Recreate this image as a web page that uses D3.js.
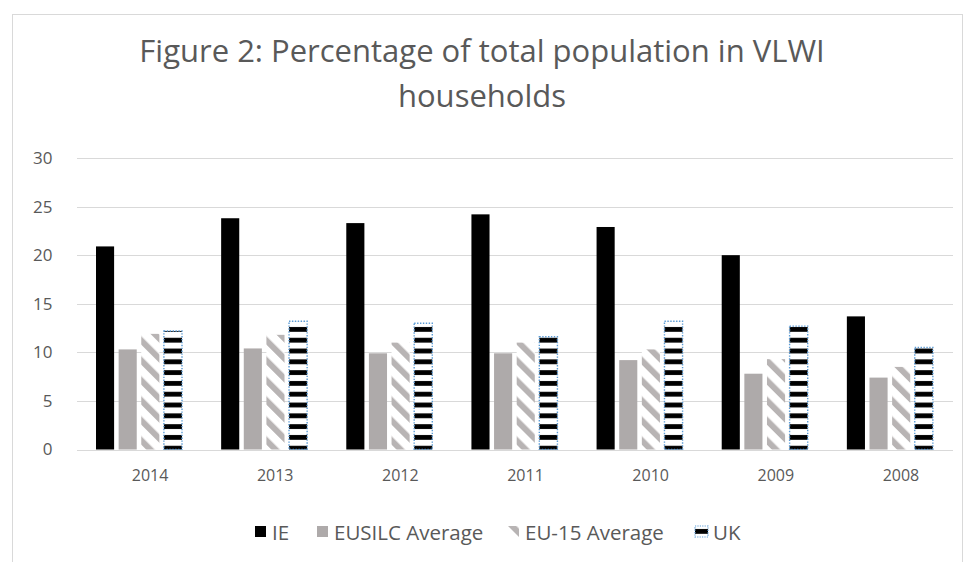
<!DOCTYPE html>
<html>
<head>
<meta charset="utf-8">
<script src="https://cdn.jsdelivr.net/npm/d3@7/dist/d3.min.js"></script>
<style>
  html, body { margin: 0; padding: 0; background: #fff; }
  svg { display: block; font-family: "Open Sans", "Noto Sans", sans-serif; }
</style>
</head>
<body>
<svg id="chart" width="965" height="562"></svg>
<script>
const titleLines = ["Figure 2: Percentage of total population in VLWI", "households"];
const categories = ["2014", "2013", "2012", "2011", "2010", "2009", "2008"];
const seriesNames = ["IE", "EUSILC Average", "EU-15 Average", "UK"];
const ie     = [20.9, 23.8, 23.3, 24.2, 22.9, 20.0, 13.7];
const eusilc = [10.3, 10.4, 9.9, 9.9, 9.2, 7.8, 7.4];
const eu15   = [11.9, 11.8, 11.0, 11.0, 10.3, 9.3, 8.5];
const uk     = [12.2, 13.2, 13.0, 11.6, 13.2, 12.7, 10.5];
const yTicks = [0, 5, 10, 15, 20, 25, 30];

const seriesValues = [ie, eusilc, eu15, uk];
const rows = categories.map((c, i) => ({
  cat: c,
  vals: seriesNames.map((s, k) => ({ key: s, k: k, value: seriesValues[k][i] }))
}));

const svg = d3.select("#chart");
const textColor = "#595959";
const gridColor = "#d9d9d9";

// patterns
const defs = svg.append("defs");
const diag = defs.append("pattern")
  .attr("id", "diag").attr("patternUnits", "userSpaceOnUse")
  .attr("width", 14.14).attr("height", 14.14)
  .attr("patternTransform", "rotate(-45)");
diag.append("rect").attr("width", 14.14).attr("height", 14.14).attr("fill", "#fff");
diag.append("rect").attr("x", 0).attr("width", 6).attr("height", 14.14).attr("fill", "#b8b4b4");

const hstripe = defs.append("pattern")
  .attr("id", "hstripe").attr("patternUnits", "userSpaceOnUse")
  .attr("width", 10).attr("height", 10.8);
hstripe.append("rect").attr("width", 10).attr("height", 10.8).attr("fill", "#fff");
hstripe.append("rect").attr("y", 3).attr("width", 10).attr("height", 4.8).attr("fill", "#000");

const fills = ["#000000", "#aeaaaa", "url(#diag)", "url(#hstripe)"];

// chart border
svg.append("rect")
  .attr("x", 12.5).attr("y", 14.5).attr("width", 950).attr("height", 600)
  .attr("fill", "none").attr("stroke", gridColor).attr("stroke-width", 1);

// title
svg.append("g").selectAll("text").data(titleLines).join("text")
  .attr("x", 482).attr("y", (d, i) => 62 + i * 45)
  .attr("text-anchor", "middle")
  .attr("font-size", 31).attr("fill", textColor)
  .text(d => d);

// scales
const x0 = d3.scaleBand().domain(categories).range([76.5, 952.5]).paddingInner(0).paddingOuter(0);
const x1 = d3.scaleBand().domain(seriesNames).range([19.5, 105.5]).paddingInner(0.2);
const y = d3.scaleLinear().domain([0, 30]).range([449.5, 158]);

// gridlines
const yAxis = d3.axisLeft(y).tickValues(yTicks).tickSize(-(952.5 - 76.5)).tickPadding(24);
const gy = svg.append("g").attr("transform", "translate(76.5,0)").call(yAxis);
gy.select(".domain").remove();
gy.selectAll(".tick line").attr("stroke", gridColor).attr("stroke-width", 1)
  .attr("shape-rendering", "crispEdges");
gy.selectAll(".tick text").attr("fill", textColor).attr("font-size", 17)
  .attr("font-family", "\"Open Sans\", sans-serif");

// bars
const groups = svg.append("g").selectAll("g").data(rows).join("g")
  .attr("transform", d => `translate(${x0(d.cat)},0)`);
groups.selectAll("rect").data(d => d.vals).join("rect")
  .attr("x", d => x1(d.key))
  .attr("y", d => y(d.value))
  .attr("width", x1.bandwidth())
  .attr("height", d => y(0) - y(d.value))
  .attr("fill", d => fills[d.k])
  .attr("stroke", d => d.k === 3 ? "#5b9bd5" : "none")
  .attr("stroke-width", d => d.k === 3 ? 1.4 : 0)
  .attr("stroke-dasharray", d => d.k === 3 ? "1.4,1.5" : null);

// x axis
const xAxis = d3.axisBottom(x0).tickSize(0).tickPadding(20);
const gx = svg.append("g").attr("transform", `translate(0,${y(0)})`).call(xAxis);
gx.select(".domain").attr("stroke", gridColor).attr("shape-rendering", "crispEdges");
gx.selectAll(".tick text").attr("fill", textColor).attr("font-size", 16)
  .attr("dx", 11)
  .attr("font-family", "\"Open Sans\", sans-serif");

// legend
const legendItems = [
  { name: seriesNames[0], x: 255, k: 0 },
  { name: seriesNames[1], x: 317, k: 1 },
  { name: seriesNames[2], x: 508, k: 2 },
  { name: seriesNames[3], x: 695, k: 3 }
];
const lg = svg.append("g").selectAll("g").data(legendItems).join("g")
  .attr("transform", d => `translate(${d.x},526)`);
lg.append("rect")
  .attr("width", d => d.k === 3 ? 13 : 11).attr("height", 11)
  .attr("fill", d => fills[d.k])
  .attr("stroke", d => d.k === 3 ? "#5b9bd5" : "none")
  .attr("stroke-width", 1.2)
  .attr("stroke-dasharray", d => d.k === 3 ? "1.2,1.2" : null);
lg.append("text")
  .attr("x", d => d.k === 3 ? 18 : 17).attr("y", 5.5)
  .attr("dominant-baseline", "central")
  .attr("font-size", 20.5).attr("fill", textColor)
  .text(d => d.name);
</script>
</body>
</html>
